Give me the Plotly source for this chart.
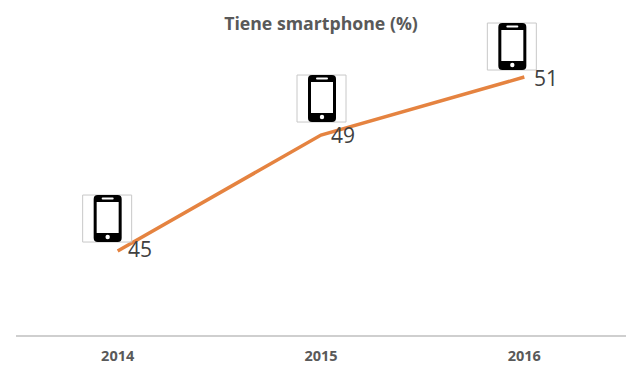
import plotly.graph_objects as go

years = ["2014", "2015", "2016"]
values = [45, 49, 51]
title_text = "Tiene smartphone (%)"

ICON_LEFT = [-35, -24, -37]
ICON_TOP = [56, 60, 54]
LABEL_DY = [2, 0, -1]


def rrect(x0, y0, x1, y1, r):
    return (f"M{x0+r},{y0} L{x1-r},{y0} Q{x1},{y0} {x1},{y0-r} L{x1},{y1+r} Q{x1},{y1} {x1-r},{y1} "
            f"L{x0+r},{y1} Q{x0},{y1} {x0},{y1+r} L{x0},{y0-r} Q{x0},{y0} {x0+r},{y0} Z")


def circle(cx, cy, r):
    return (f"M{cx-r},{cy} Q{cx-r},{cy+r} {cx},{cy+r} Q{cx+r},{cy+r} {cx+r},{cy} "
            f"Q{cx+r},{cy-r} {cx},{cy-r} Q{cx-r},{cy-r} {cx-r},{cy} Z")


fig = go.Figure()
fig.add_trace(go.Scatter(x=years, y=values, mode="lines",
                         line=dict(color="#E58340", width=3.5), hoverinfo="skip"))

shapes = []
annotations = []
for i, (yr, v, left, top, dy) in enumerate(zip(years, values, ICON_LEFT, ICON_TOP, LABEL_DY)):
    base = dict(type="path", xref="x", yref="y", xsizemode="pixel", ysizemode="pixel",
                xanchor=i, yanchor=v, layer="above")
    shapes.append(dict(base, path=rrect(left, top, left + 49, top - 47, 0),
                       line=dict(color="#C8C8C8", width=1), fillcolor="rgba(255,255,255,0)"))
    px0, px1 = left + 11, left + 39
    shapes.append(dict(base, path=rrect(px0, top, px1, top - 47, 4),
                       line=dict(width=0), fillcolor="#000000"))
    shapes.append(dict(base, path=rrect(px0 + 3, top - 7, px1 - 3, top - 38, 0),
                       line=dict(width=0), fillcolor="#FFFFFF"))
    shapes.append(dict(base, path=rrect(px0 + 8, top - 2.5, px1 - 8, top - 4.5, 1),
                       line=dict(width=0), fillcolor="#FFFFFF"))
    shapes.append(dict(base, path=circle((px0 + px1) / 2, top - 42, 2.2),
                       line=dict(width=0), fillcolor="#FFFFFF"))
    annotations.append(dict(x=i, y=v, text=str(v), showarrow=False, xanchor="left",
                            yanchor="middle", xshift=8, yshift=dy,
                            font=dict(family="Open Sans", size=21, color="#404040")))

fig.update_layout(
    width=624, height=363, autosize=False,
    paper_bgcolor="white", plot_bgcolor="white", showlegend=False,
    margin=dict(l=8, r=6, t=0, b=36),
    title=dict(text=f"<b>{title_text}</b>", x=313 / 624, xanchor="center",
               y=1 - 16 / 363, yanchor="middle",
               font=dict(family="Open Sans", size=17.7, color="#595959")),
    shapes=shapes, annotations=annotations,
    xaxis=dict(type="category", range=[-0.5, 2.5], showgrid=False, zeroline=False,
               showline=True, linecolor="#CFCFCF", linewidth=1.5,
               ticks="outside", ticklen=7, tickcolor="rgba(255,255,255,0)",
               tickprefix="<b>", ticksuffix="</b>",
               tickfont=dict(family="Open Sans", size=14.5, color="#595959")),
    yaxis=dict(range=[42.105, 42.105 + 327 / 29], visible=False),
)
fig.write_html("out.html")
